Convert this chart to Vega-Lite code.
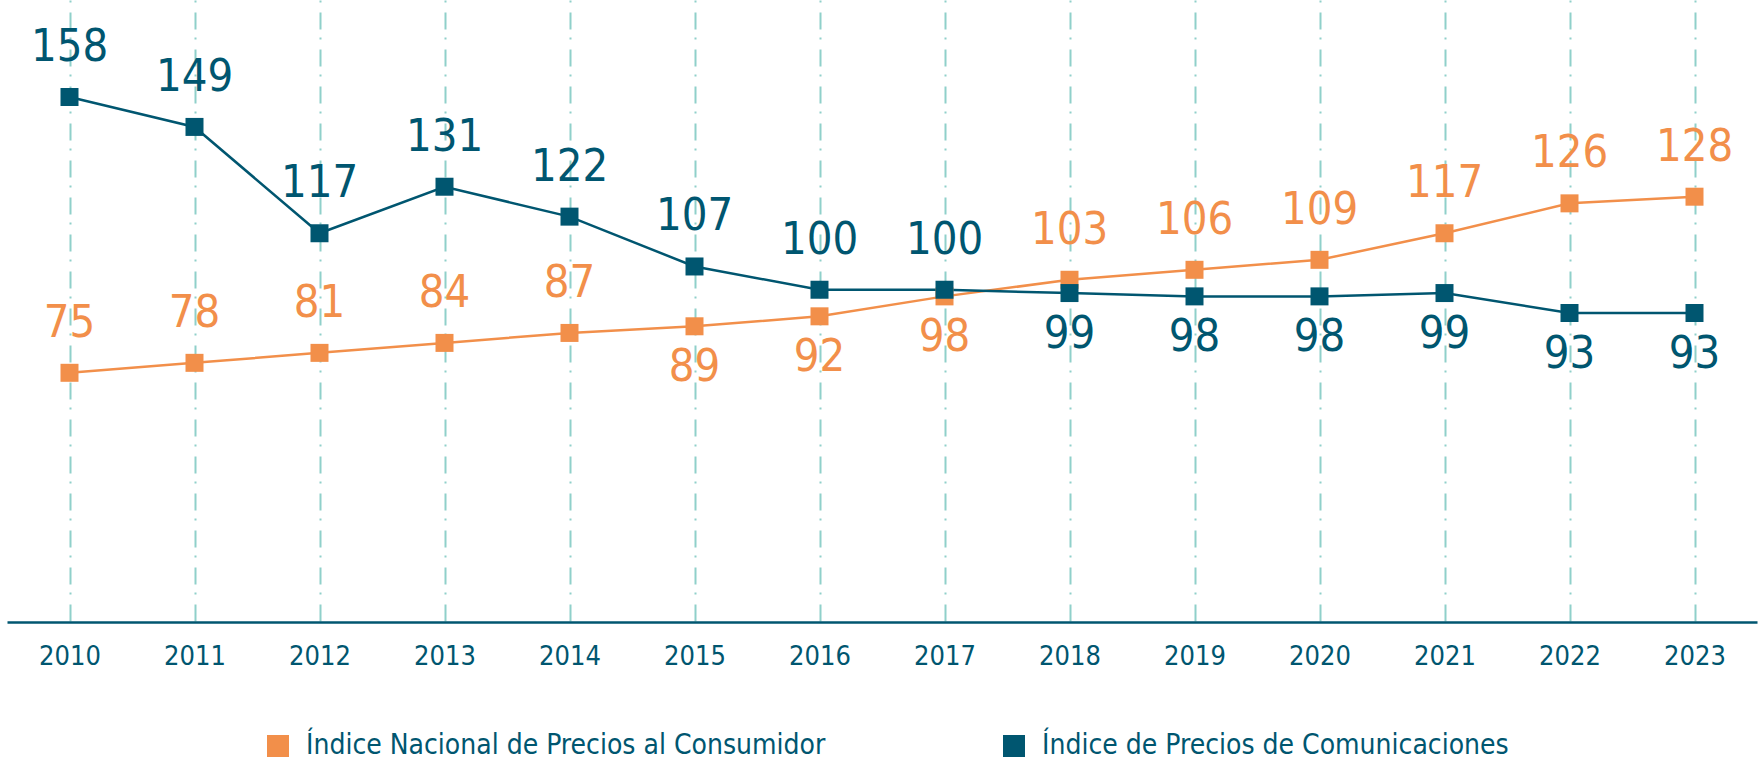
{
  "$schema": "https://vega.github.io/schema/vega-lite/v6.json",
  "autosize": "none",
  "width": 1750,
  "height": 622,
  "padding": {"left": 7, "right": 7, "top": 0, "bottom": 145},
  "background": "white",
  "data": {
    "values": [
      {"year": 2010, "serie": "Índice Nacional de Precios al Consumidor", "valor": 75},
      {"year": 2011, "serie": "Índice Nacional de Precios al Consumidor", "valor": 78},
      {"year": 2012, "serie": "Índice Nacional de Precios al Consumidor", "valor": 81},
      {"year": 2013, "serie": "Índice Nacional de Precios al Consumidor", "valor": 84},
      {"year": 2014, "serie": "Índice Nacional de Precios al Consumidor", "valor": 87},
      {"year": 2015, "serie": "Índice Nacional de Precios al Consumidor", "valor": 89},
      {"year": 2016, "serie": "Índice Nacional de Precios al Consumidor", "valor": 92},
      {"year": 2017, "serie": "Índice Nacional de Precios al Consumidor", "valor": 98},
      {"year": 2018, "serie": "Índice Nacional de Precios al Consumidor", "valor": 103},
      {"year": 2019, "serie": "Índice Nacional de Precios al Consumidor", "valor": 106},
      {"year": 2020, "serie": "Índice Nacional de Precios al Consumidor", "valor": 109},
      {"year": 2021, "serie": "Índice Nacional de Precios al Consumidor", "valor": 117},
      {"year": 2022, "serie": "Índice Nacional de Precios al Consumidor", "valor": 126},
      {"year": 2023, "serie": "Índice Nacional de Precios al Consumidor", "valor": 128},
      {"year": 2010, "serie": "Índice de Precios de Comunicaciones", "valor": 158},
      {"year": 2011, "serie": "Índice de Precios de Comunicaciones", "valor": 149},
      {"year": 2012, "serie": "Índice de Precios de Comunicaciones", "valor": 117},
      {"year": 2013, "serie": "Índice de Precios de Comunicaciones", "valor": 131},
      {"year": 2014, "serie": "Índice de Precios de Comunicaciones", "valor": 122},
      {"year": 2015, "serie": "Índice de Precios de Comunicaciones", "valor": 107},
      {"year": 2016, "serie": "Índice de Precios de Comunicaciones", "valor": 100},
      {"year": 2017, "serie": "Índice de Precios de Comunicaciones", "valor": 100},
      {"year": 2018, "serie": "Índice de Precios de Comunicaciones", "valor": 99},
      {"year": 2019, "serie": "Índice de Precios de Comunicaciones", "valor": 98},
      {"year": 2020, "serie": "Índice de Precios de Comunicaciones", "valor": 98},
      {"year": 2021, "serie": "Índice de Precios de Comunicaciones", "valor": 99},
      {"year": 2022, "serie": "Índice de Precios de Comunicaciones", "valor": 93},
      {"year": 2023, "serie": "Índice de Precios de Comunicaciones", "valor": 93}
    ]
  },
  "encoding": {
    "x": {
      "field": "year", "type": "ordinal",
      "scale": {"type": "point", "padding": 0.5},
      "axis": {
        "title": null, "labelAngle": 0, "ticks": false,
        "domain": true, "domainColor": "#005670", "domainWidth": 2.5,
        "grid": true, "gridColor": "#8fd0ca", "gridWidth": 2, "gridDash": [2, 10, 17, 8],
        "labelFont": "DejaVu Sans Condensed", "labelFontSize": 27, "labelColor": "#005670",
        "labelPadding": 21
      }
    },
    "y": {
      "field": "valor", "type": "quantitative",
      "scale": {"domain": [0, 187.2], "nice": false, "zero": true},
      "axis": null
    },
    "color": {
      "field": "serie", "type": "nominal",
      "scale": {
        "domain": ["Índice Nacional de Precios al Consumidor", "Índice de Precios de Comunicaciones"],
        "range": ["#f28f4a", "#005670"]
      },
      "legend": {
        "title": null, "orient": "none", "legendX": 257, "legendY": 732,
        "direction": "horizontal", "symbolType": "square", "symbolSize": 484,
        "symbolStrokeWidth": 0, "symbolOpacity": 1,
        "labelFont": "DejaVu Sans Condensed", "labelFontSize": 28, "labelColor": "#005670",
        "labelOffset": 14, "labelLimit": 800, "columnPadding": 174
      }
    }
  },
  "layer": [
    {"mark": {"type": "line", "strokeWidth": 2.5}},
    {
      "mark": {"type": "point", "shape": "square", "filled": true, "size": 324, "opacity": 1}
    },
    {
      "transform": [{"filter": "(datum.serie == 'Índice de Precios de Comunicaciones' && datum.year <= 2017) || (datum.serie == 'Índice Nacional de Precios al Consumidor' && (datum.year <= 2014 || datum.year >= 2018))"}],
      "mark": {"type": "text", "font": "DejaVu Sans Condensed", "fontSize": 45, "baseline": "alphabetic", "dy": -36},
      "encoding": {"text": {"field": "valor", "type": "quantitative"}}
    },
    {
      "transform": [{"filter": "(datum.serie == 'Índice de Precios de Comunicaciones' && datum.year >= 2018) || (datum.serie == 'Índice Nacional de Precios al Consumidor' && datum.year >= 2015 && datum.year <= 2017)"}],
      "mark": {"type": "text", "font": "DejaVu Sans Condensed", "fontSize": 45, "baseline": "alphabetic", "dy": 55},
      "encoding": {"text": {"field": "valor", "type": "quantitative"}}
    }
  ],
  "config": {"view": {"stroke": null}}
}
